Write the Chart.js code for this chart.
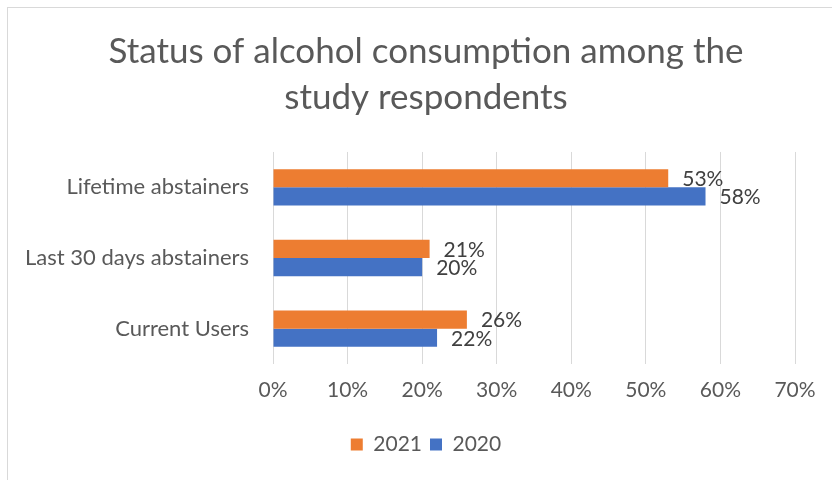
<!DOCTYPE html>
<html>
<head>
<meta charset="utf-8">
<script src="https://cdn.jsdelivr.net/npm/chart.js@4"></script>
<style>
  body { margin: 0; background: #fff; }
  #wrap { width: 832px; height: 480px; overflow: hidden; }
</style>
</head>
<body>
<div id="wrap"><canvas id="grafico" width="852" height="480"></canvas></div>
<script>
const categorias = ["Lifetime abstainers", "Last 30 days abstainers", "Current Users"];
const valores2021 = [53, 21, 26];
const valores2020 = [58, 20, 22];
const ticksX = [0, 10, 20, 30, 40, 50, 60, 70];

const gris = "#595959";

// fondo blanco y borde del grafico
const marco = {
    id: "marco",
    beforeDraw(chart) {
        const ctx = chart.ctx;
        ctx.save();
        ctx.fillStyle = "#fff";
        ctx.fillRect(0, 0, chart.width, chart.height);
        ctx.strokeStyle = "#d9d9d9";
        ctx.lineWidth = 1;
        ctx.strokeRect(7.5, 7.5, 900, 900);
        ctx.restore();
    }
};

// etiquetas de valor al final de cada barra
const etiquetas = {
    id: "etiquetas",
    afterDatasetsDraw(chart) {
        const ctx = chart.ctx;
        ctx.save();
        ctx.font = "21px Lato";
        ctx.fillStyle = "#404040";
        ctx.textAlign = "left";
        ctx.textBaseline = "middle";
        chart.data.datasets.forEach((ds, i) => {
            chart.getDatasetMeta(i).data.forEach((bar, j) => {
                ctx.fillText(ds.data[j] + "%", bar.x + 14, bar.y + 1);
            });
        });
        ctx.restore();
    }
};

const ctx = document.getElementById("grafico").getContext("2d");
new Chart(ctx, {
    type: "bar",
    data: {
        labels: categorias,
        datasets: [
            {
                label: "2021",
                data: valores2021,
                backgroundColor: "#ED7D31",
                categoryPercentage: 0.514,
                barPercentage: 1
            },
            {
                label: "2020",
                data: valores2020,
                backgroundColor: "#4472C4",
                categoryPercentage: 0.514,
                barPercentage: 1
            }
        ]
    },
    options: {
        indexAxis: "y",
        responsive: false,
        animation: false,
        layout: { padding: { top: 7, right: 0, bottom: 15, left: 0 } },
        plugins: {
            title: {
                display: true,
                text: ["Status of alcohol consumption among the", "study respondents"],
                color: gris,
                font: { family: "Lato", size: 35, weight: "normal", lineHeight: 1.314 },
                padding: { top: 22, bottom: 31 }
            },
            legend: {
                position: "bottom",
                labels: {
                    color: gris,
                    font: { family: "Lato", size: 21 },
                    boxWidth: 12,
                    boxHeight: 12,
                    padding: 8
                }
            },
            tooltip: { enabled: false }
        },
        scales: {
            x: {
                min: 0,
                max: 70,
                afterBuildTicks: axis => { axis.ticks = ticksX.map(v => ({ value: v })); },
                afterFit: axis => { axis.height = 62; },
                ticks: {
                    color: gris,
                    font: { family: "Lato", size: 21 },
                    padding: 14,
                    callback: v => v + "%"
                },
                grid: { color: "#d9d9d9", drawTicks: false },
                border: { display: false }
            },
            y: {
                afterFit: axis => { axis.width = 273; },
                ticks: {
                    color: gris,
                    font: { family: "Lato", size: 22 },
                    padding: 24
                },
                grid: { display: false, drawTicks: false },
                border: { display: false }
            },
            // eje vacio a la derecha solo para reservar espacio
            y2: {
                type: "linear",
                position: "right",
                afterFit: axis => { axis.width = 57; },
                ticks: { display: false },
                grid: { display: false, drawTicks: false },
                border: { display: false }
            }
        }
    },
    plugins: [marco, etiquetas]
});
</script>
</body>
</html>
